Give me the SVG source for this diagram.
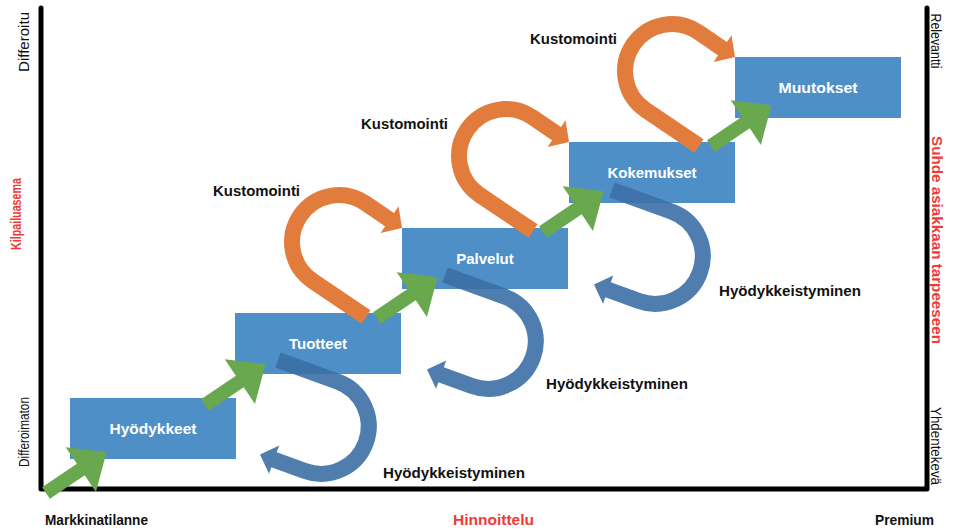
<svg xmlns="http://www.w3.org/2000/svg" width="956" height="531" viewBox="0 0 956 531">
  <style>
    .box { fill: #4f8fc7; }
    .nlabel { font-family: "Liberation Sans", Arial, sans-serif; font-weight: bold; font-size: 15px; fill: #ffffff; text-anchor: middle; }
    .lbl { font-family: "Liberation Sans", Arial, sans-serif; font-weight: bold; font-size: 15px; fill: #111111; }
    .axis { font-family: "Liberation Sans", Arial, sans-serif; font-size: 14.5px; fill: #111111; text-anchor: middle; }
    .axis-title { font-family: "Liberation Sans", Arial, sans-serif; font-size: 15.5px; font-weight: bold; fill: #f03a3a; text-anchor: middle; }
    .axis-end { font-family: "Liberation Sans", Arial, sans-serif; font-size: 14px; font-weight: bold; fill: #111111; }
    .frame { fill: none; stroke: #000000; stroke-width: 5; stroke-linejoin: round; stroke-linecap: round; }
    .step { fill: #6aa84f; }
    .band-o { fill: none; stroke: #e27c3c; stroke-width: 16; }
    .head-o { fill: #e27c3c; }
    .band-b { fill: none; stroke: #3c6fa6; stroke-width: 16; }
    .head-b { fill: #3c6fa6; }
  </style>
  <defs>
    <!-- straight block arrow, tail centre at origin, pointing along +x -->
    <polygon id="step-arrow" class="step" points="0,-7 42,-7 42,-27 73,0 42,27 42,7 0,7"/>
    <!-- orange U-turn, origin at the arrow tip -->
    <g id="custom-loop">
      <path class="band-o" d="M -36,89 L -89.3,53 A 46.9 46.9 0 0 1 -36.7,-24.8 L -10,-6.7"/>
      <polygon class="head-o" points="-3.5,-21.7 0,0 -21.4,4.9"/>
    </g>
    <!-- blue U-turn, origin at the arrow tip -->
    <g id="commodity-loop" opacity="0.9">
      <path class="band-b" d="M 18,-96 L 77.4,-74.4 A 47.5 47.5 0 0 1 45,15 L 11.3,2.7"/>
      <polygon class="head-b" points="19.2,-10.4 0,-1.4 9,17.8"/>
    </g>
  </defs>

  <!-- axes frame -->
  <polyline class="frame" points="41,8 41,489 927,489 927,8"/>

  <!-- stages -->
  <g id="node-hyodykkeet">
    <rect class="box" x="70" y="398" width="166" height="61"/>
    <text class="nlabel" x="153" y="434" textLength="87" lengthAdjust="spacingAndGlyphs">Hyödykkeet</text>
  </g>
  <g id="node-tuotteet">
    <rect class="box" x="235" y="313" width="166" height="61"/>
    <text class="nlabel" x="318" y="349">Tuotteet</text>
  </g>
  <g id="node-palvelut">
    <rect class="box" x="402" y="228" width="166" height="61"/>
    <text class="nlabel" x="485" y="264">Palvelut</text>
  </g>
  <g id="node-kokemukset">
    <rect class="box" x="569" y="142" width="166" height="61"/>
    <text class="nlabel" x="652" y="178">Kokemukset</text>
  </g>
  <g id="node-muutokset">
    <rect class="box" x="735" y="57" width="166" height="61"/>
    <text class="nlabel" x="818" y="93" textLength="79" lengthAdjust="spacingAndGlyphs">Muutokset</text>
  </g>

  <!-- connectors -->
  <g id="connectors">
    <g id="commodity-loops">
      <use href="#commodity-loop" transform="translate(260,456)"/>
      <use href="#commodity-loop" transform="translate(427,371)"/>
      <use href="#commodity-loop" transform="translate(594,286)"/>
    </g>
    <g id="custom-loops">
      <use href="#custom-loop" transform="translate(402,228)"/>
      <use href="#custom-loop" transform="translate(569,142)"/>
      <use href="#custom-loop" transform="translate(735,57)"/>
    </g>
    <g id="step-arrows">
      <use href="#step-arrow" transform="translate(46,493) rotate(-34)"/>
      <use href="#step-arrow" transform="translate(205,405) rotate(-34)"/>
      <use href="#step-arrow" transform="translate(377,318) rotate(-34)"/>
      <use href="#step-arrow" transform="translate(543,232) rotate(-34)"/>
      <use href="#step-arrow" transform="translate(711,146) rotate(-34)"/>
    </g>
  </g>

  <!-- loop labels -->
  <g id="labels">
    <text class="lbl" x="213" y="196" textLength="87" lengthAdjust="spacingAndGlyphs">Kustomointi</text>
    <text class="lbl" x="361" y="129" textLength="87" lengthAdjust="spacingAndGlyphs">Kustomointi</text>
    <text class="lbl" x="530" y="44" textLength="87" lengthAdjust="spacingAndGlyphs">Kustomointi</text>
    <text class="lbl" x="383" y="478" textLength="142" lengthAdjust="spacingAndGlyphs">Hyödykkeistyminen</text>
    <text class="lbl" x="546" y="389" textLength="142" lengthAdjust="spacingAndGlyphs">Hyödykkeistyminen</text>
    <text class="lbl" x="719" y="296" textLength="142" lengthAdjust="spacingAndGlyphs">Hyödykkeistyminen</text>
  </g>

  <!-- axis texts -->
  <g id="axis-labels">
    <text class="axis" transform="translate(28.5,42) rotate(-90)" textLength="60" lengthAdjust="spacingAndGlyphs">Differoitu</text>
    <text class="axis" transform="translate(28.5,432) rotate(-90)" textLength="70" lengthAdjust="spacingAndGlyphs">Differoimaton</text>
    <text class="axis-title" transform="translate(21,214) rotate(-90)" textLength="72" lengthAdjust="spacingAndGlyphs">Kilpailuasema</text>
    <text class="axis" transform="translate(931,41) rotate(90)" textLength="55" lengthAdjust="spacingAndGlyphs">Relevantti</text>
    <text class="axis-title" transform="translate(932,240) rotate(90)" textLength="208" lengthAdjust="spacingAndGlyphs">Suhde asiakkaan tarpeeseen</text>
    <text class="axis" transform="translate(931,446) rotate(90)" textLength="78" lengthAdjust="spacingAndGlyphs">Yhdentekevä</text>
    <text class="axis-end" x="45" y="525" textLength="103" lengthAdjust="spacingAndGlyphs">Markkinatilanne</text>
    <text class="axis-end" x="453" y="525" style="fill:#f03a3a" textLength="81" lengthAdjust="spacingAndGlyphs">Hinnoittelu</text>
    <text class="axis-end" x="875" y="525" textLength="59" lengthAdjust="spacingAndGlyphs">Premium</text>
  </g>
</svg>
